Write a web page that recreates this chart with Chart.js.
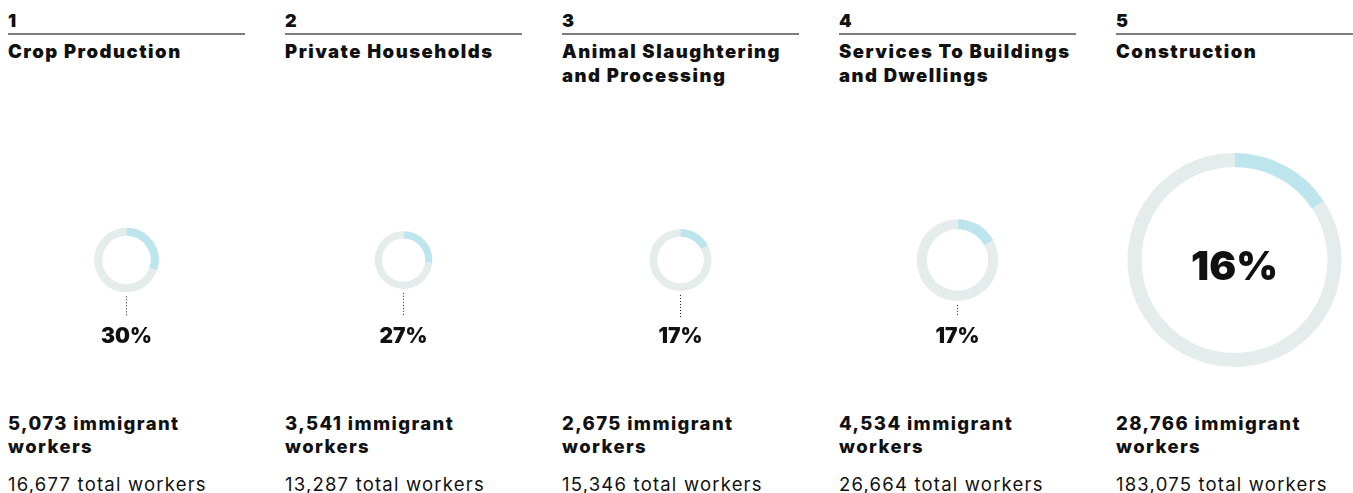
<!DOCTYPE html>
<html>
<head>
<meta charset="utf-8">
<script src="https://cdn.jsdelivr.net/npm/chart.js@4.4.1/dist/chart.umd.min.js"></script>
<style>
  body { margin: 0; background: #fff; font-family: "Inter", "Liberation Sans", sans-serif; color: #111; }
  #wrap { position: relative; width: 1353px; height: 493px; overflow: hidden; }
  .col { position: absolute; top: 0; width: 237px; height: 493px; }
  .num { position: absolute; top: 9px; left: 0; font-weight: 900; font-size: 18px; line-height: 24px; }
  .rule { position: absolute; top: 33px; left: 0; width: 237px; height: 2px; background: #7d7d7d; }
  .title { position: absolute; top: 39px; left: 0; width: 237px; font-weight: 900; font-size: 18.5px; line-height: 24px; letter-spacing: 1.5px; }
  .chart { position: absolute; top: 145px; left: 0; width: 237px; height: 230px; }
  .imm { position: absolute; top: 412px; left: 0; font-weight: 800; font-size: 18.5px; line-height: 23px; letter-spacing: 1.4px; }
  .tot { position: absolute; top: 473px; left: 0; font-weight: 400; font-size: 18.5px; line-height: 23px; letter-spacing: 1.2px; }
</style>
</head>
<body>
<div id="wrap"></div>
<script>
// data
const ranks = ["1", "2", "3", "4", "5"];
const industries = [
  "Crop Production",
  "Private Households",
  "Animal Slaughtering and Processing",
  "Services To Buildings and Dwellings",
  "Construction"
];
const immigrantWorkers = [5073, 3541, 2675, 4534, 28766];
const totalWorkers = [16677, 13287, 15346, 26664, 183075];

const highlight = "#bde5ee";
const restColor = "#e5ecec";
const maxRadius = 107;
const maxTotal = Math.max(...totalWorkers);

// percent label + dotted leader drawn under the ring (or inside when big)
const percentLabel = {
  id: "percentLabel",
  afterDraw(chart, args, opts) {
    const arc = chart.getDatasetMeta(0).data[0];
    if (!arc) return;
    const ctx = chart.ctx;
    const cx = arc.x, cy = arc.y, r = arc.outerRadius;
    ctx.save();
    ctx.textAlign = "center";
    if (r > 80) {
      ctx.fillStyle = "#111";
      ctx.font = "900 40px Inter, sans-serif";
      ctx.textBaseline = "alphabetic";
      ctx.fillText(opts.text, cx, cy + 20);
    } else {
      ctx.fillStyle = "#222";
      for (let y = cy + r + 4; y <= 171; y += 3) {
        ctx.fillRect(Math.round(cx) - 1, y, 1, 1);
      }
      ctx.fillStyle = "#111";
      ctx.font = "900 21px Inter, sans-serif";
      ctx.textBaseline = "alphabetic";
      ctx.fillText(opts.text, cx, 198);
    }
    ctx.restore();
  }
};

const wrap = document.getElementById("wrap");

industries.forEach((name, i) => {
  const col = document.createElement("div");
  col.className = "col";
  col.style.left = (8 + i * 277) + "px";
  col.innerHTML =
    '<div class="num">' + ranks[i] + '</div>' +
    '<div class="rule"></div>' +
    '<div class="title"></div>' +
    '<div class="chart"><canvas width="237" height="230"></canvas></div>' +
    '<div class="imm">' + immigrantWorkers[i].toLocaleString("en-US") + ' immigrant<br>workers</div>' +
    '<div class="tot">' + totalWorkers[i].toLocaleString("en-US") + ' total workers</div>';
  col.querySelector(".title").textContent = name;
  wrap.appendChild(col);

  // ring area scales with total workers
  const r = maxRadius * Math.sqrt(totalWorkers[i] / maxTotal);
  const thick = Math.min(r * 0.25, 14);
  const pct = Math.round(immigrantWorkers[i] / totalWorkers[i] * 100) + "%";

  new Chart(col.querySelector("canvas"), {
    type: "doughnut",
    data: {
      labels: ["Immigrant", "Other"],
      datasets: [{
        data: [immigrantWorkers[i], totalWorkers[i] - immigrantWorkers[i]],
        backgroundColor: [highlight, restColor],
        borderWidth: 0
      }]
    },
    options: {
      responsive: false,
      animation: false,
      radius: r,
      cutout: ((r - thick) / r * 100) + "%",
      plugins: {
        legend: { display: false },
        tooltip: { enabled: false },
        percentLabel: { text: pct }
      }
    },
    plugins: [percentLabel]
  });
});
</script>
</body>
</html>
